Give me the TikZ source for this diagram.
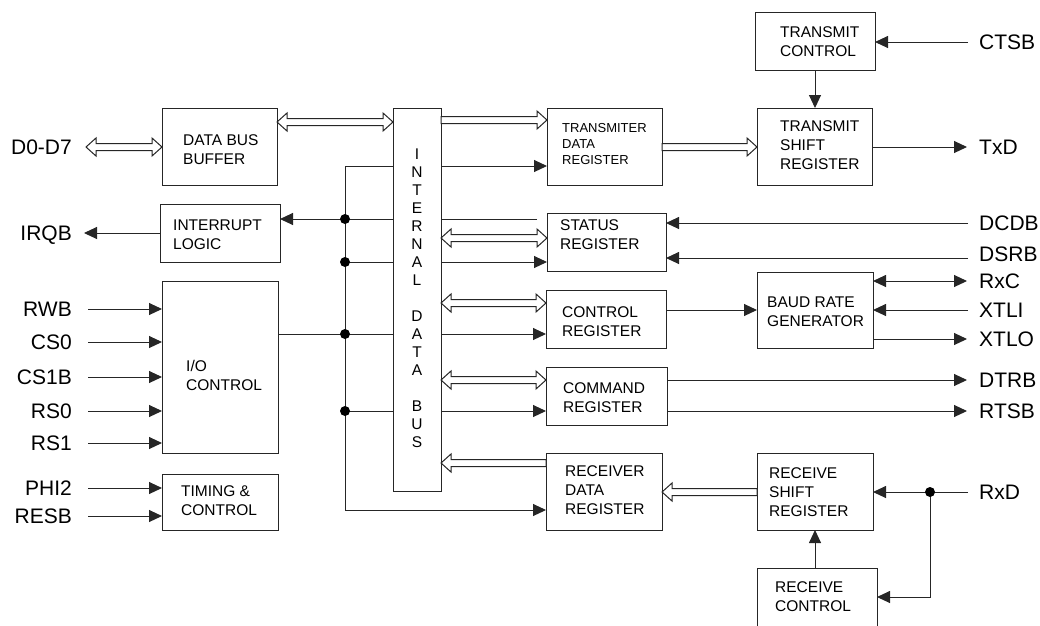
\documentclass[tikz,border=0pt]{standalone}
\usepackage{fontspec}
\setmainfont{Liberation Sans}
\usetikzlibrary{arrows.meta,calc}
\pgfdeclarelayer{bg}
\pgfsetlayers{bg,main}
\tikzset{
 ln/.style={line width=1pt, draw=black!85},
 arr/.style={ln, -{Triangle[length=13pt,width=12pt]}},
 darr/.style={ln, {Triangle[length=13pt,width=12pt]}-{Triangle[length=13pt,width=12pt]}},
 blk/.style={draw=black!85, line width=1pt, fill=white, inner sep=0pt, outer sep=0pt},
 lbl/.style={font=\fontsize{15.5}{19}\selectfont, align=left, inner sep=0pt},
 smalllbl/.style={font=\fontsize{13}{16}\selectfont, align=left, inner sep=0pt},
 pin/.style={font=\fontsize{21}{24}\selectfont, inner sep=0pt, text height=15pt, text depth=0pt},
 dot/.style={circle, fill=black, inner sep=0pt, minimum size=10pt},
 hol/.style={ln, fill=white, to path={let \p1=(\tikztostart), \p2=(\tikztotarget), \n1={sign(\x2-\x1)} in
   (\x1,\y1+3.5pt) -- (\x2-\n1*10pt,\y1+3.5pt) -- (\x2-\n1*10pt,\y1+9pt) -- (\x2,\y1)
   -- (\x2-\n1*10pt,\y1-9pt) -- (\x2-\n1*10pt,\y1-3.5pt) -- (\x1,\y1-3.5pt) -- cycle}},
 holtwo/.style={ln, fill=white, to path={let \p1=(\tikztostart), \p2=(\tikztotarget), \n1={sign(\x2-\x1)} in
   (\x1+\n1*10pt,\y1+3.5pt) -- (\x2-\n1*10pt,\y1+3.5pt) -- (\x2-\n1*10pt,\y1+9pt) -- (\x2,\y1)
   -- (\x2-\n1*10pt,\y1-9pt) -- (\x2-\n1*10pt,\y1-3.5pt) -- (\x1+\n1*10pt,\y1-3.5pt)
   -- (\x1+\n1*10pt,\y1-9pt) -- (\x1,\y1) -- (\x1+\n1*10pt,\y1+9pt) -- cycle}}
}
\begin{document}
\begin{tikzpicture}[x=1pt,y=-1pt]
\useasboundingbox (0,0) rectangle (1040,625);
\clip (0,0) rectangle (1040,625);

% ---------- blocks ----------
\node[blk, minimum width=115pt, minimum height=77pt] (dbb) at (219.5,146.5) {};
\node[blk, minimum width=120pt, minimum height=58pt] (irq) at (220,233) {};
\node[blk, minimum width=116pt, minimum height=172pt] (ioc) at (220,367) {};
\node[blk, minimum width=116pt, minimum height=56pt] (tim) at (220,502) {};
\node[blk, minimum width=115pt, minimum height=77pt] (tdr) at (604.5,146.5) {};
\node[blk, minimum width=119pt, minimum height=58pt] (sr) at (606.5,242) {};
\node[blk, minimum width=120pt, minimum height=58pt] (cr) at (606,319) {};
\node[blk, minimum width=121pt, minimum height=58pt] (cmd) at (606.5,396) {};
\node[blk, minimum width=116pt, minimum height=77pt] (rdr) at (604,491.5) {};
\node[blk, minimum width=120pt, minimum height=58pt] (tc) at (815,41) {};
\node[blk, minimum width=115pt, minimum height=77pt] (tsr) at (814.5,146.5) {};
\node[blk, minimum width=116pt, minimum height=76pt] (brg) at (815,310) {};
\node[blk, minimum width=116pt, minimum height=77pt] (rsr) at (815,491.5) {};
\node[blk, minimum width=120pt, minimum height=77pt] (rc) at (817,606.5) {};
\node[blk, minimum width=48pt, minimum height=383pt] (bus) at (417,299.5) {};

% ---------- block texts ----------
\node[lbl, anchor=west] (txtdbb) at (183,149.5) {DATA BUS\\BUFFER};
\node[lbl, anchor=west] (txtirq) at (173,235) {INTERRUPT\\LOGIC};
\node[lbl, anchor=west] (txtioc) at (186,375.5) {I/O\\CONTROL};
\node[lbl, anchor=west] (txttim) at (181,500.5) {TIMING \&\\CONTROL};
\node[smalllbl, anchor=west] (txttdr) at (562,144) {TRANSMITER\\DATA\\REGISTER};
\node[lbl, anchor=west] (txtsr) at (560,234.5) {STATUS\\REGISTER};
\node[lbl, anchor=west] (txtcr) at (562,321.5) {CONTROL\\REGISTER};
\node[lbl, anchor=west] (txtcmd) at (563,397.5) {COMMAND\\REGISTER};
\node[lbl, anchor=west] (txtrdr) at (565,490) {RECEIVER\\DATA\\REGISTER};
\node[lbl, anchor=west] (txttc) at (780,41.5) {TRANSMIT\\CONTROL};
\node[lbl, anchor=west] (txttsr) at (780,145) {TRANSMIT\\SHIFT\\REGISTER};
\node[lbl, anchor=west] (txtbrg) at (767,312) {BAUD RATE\\GENERATOR};
\node[lbl, anchor=west] (txtrsr) at (769,492) {RECEIVE\\SHIFT\\REGISTER};
\node[lbl, anchor=west] (txtrc) at (775,597) {RECEIVE\\CONTROL};
\node[font=\fontsize{15.5}{18}\selectfont, align=center, inner sep=0pt] (txtbus) at (417,298.5)
  {I\\N\\T\\E\\R\\N\\A\\L\\[18pt]D\\A\\T\\A\\[18pt]B\\U\\S};

% ---------- pin labels ----------
\node[pin, anchor=east] (d07) at (72,147) {D0-D7};
\node[pin, anchor=east] (irqb) at (72,233) {IRQB};
\node[pin, anchor=east] (rwb) at (72,309) {RWB};
\node[pin, anchor=east] (cs0) at (72,342) {CS0};
\node[pin, anchor=east] (cs1b) at (72,377) {CS1B};
\node[pin, anchor=east] (rs0) at (72,411) {RS0};
\node[pin, anchor=east] (rs1) at (72,443) {RS1};
\node[pin, anchor=east] (phi2) at (72,488) {PHI2};
\node[pin, anchor=east] (resb) at (72,516) {RESB};
\node[pin, anchor=west] (ctsb) at (979,42) {CTSB};
\node[pin, anchor=west] (txd) at (979,147) {TxD};
\node[pin, anchor=west] (dcdb) at (979,223) {DCDB};
\node[pin, anchor=west] (dsrb) at (979,254) {DSRB};
\node[pin, anchor=west] (rxc) at (979,281) {RxC};
\node[pin, anchor=west] (xtli) at (979,310) {XTLI};
\node[pin, anchor=west] (xtlo) at (979,339) {XTLO};
\node[pin, anchor=west] (dtrb) at (979,380) {DTRB};
\node[pin, anchor=west] (rtsb) at (979,411) {RTSB};
\node[pin, anchor=west] (rxd) at (979,492) {RxD};

% ---------- internal control lines ----------
\coordinate (jt) at (345,166);
\coordinate (jb) at (345,510);
\coordinate (j1) at (345,219);
\coordinate (j2) at (345,262);
\coordinate (j3) at (345,334);
\coordinate (j4) at (345,411);
\coordinate (s0) at (537,219);
\begin{pgfonlayer}{bg}
\draw[arr] (jt) -- (tdr.west |- jt);
\draw[ln] (jt) -- (jb);
\draw[arr] (s0) -- (irq.east |- s0);
\draw[arr] (j2) -- (sr.west |- j2);
\draw[arr] (ioc.east |- j3) -- (cr.west |- j3);
\draw[arr] (j4) -- (cmd.west |- j4);
\end{pgfonlayer}
\draw[arr] (jb) -- (rdr.west |- jb);
\node[dot] (dj1) at (j1) {};
\node[dot] (dj2) at (j2) {};
\node[dot] (dj3) at (j3) {};
\node[dot] (dj4) at (j4) {};

% ---------- hollow bus arrows ----------
\coordinate (h0) at ($(d07.east)+(14,0)$);
\draw[holtwo] (h0) to (dbb.west |- h0);
\coordinate (h1) at (dbb.east |- 0,122);
\draw[holtwo] (h1) to (bus.west |- h1);
\coordinate (h2) at (bus.east |- 0,120);
\draw[hol] (h2) to (tdr.west |- h2);
\coordinate (h3) at (tdr.east |- 0,147);
\draw[hol] (h3) to (tsr.west |- h3);
\coordinate (h4) at (bus.east |- 0,238);
\draw[holtwo] (h4) to (sr.west |- h4);
\coordinate (h5) at (bus.east |- 0,303);
\draw[holtwo] (h5) to (cr.west |- h5);
\coordinate (h6) at (bus.east |- 0,380);
\draw[holtwo] (h6) to (cmd.west |- h6);
\coordinate (h7) at (rdr.west |- 0,463);
\draw[hol] (h7) to (bus.east |- h7);
\coordinate (h8) at (rsr.west |- 0,492);
\draw[hol] (h8) to (rdr.east |- h8);

% ---------- left pins ----------
\coordinate (eirqb) at ($(irqb.east)+(12,0)$);
\draw[arr] (irq.west |- eirqb) -- (eirqb);
\coordinate (erwb) at ($(rwb.east)+(16,0)$);
\draw[arr] (erwb) -- (ioc.west |- erwb);
\coordinate (ecs0) at ($(cs0.east)+(16,0)$);
\draw[arr] (ecs0) -- (ioc.west |- ecs0);
\coordinate (ecs1b) at ($(cs1b.east)+(16,0)$);
\draw[arr] (ecs1b) -- (ioc.west |- ecs1b);
\coordinate (ers0) at ($(rs0.east)+(16,0)$);
\draw[arr] (ers0) -- (ioc.west |- ers0);
\coordinate (ers1) at ($(rs1.east)+(16,0)$);
\draw[arr] (ers1) -- (ioc.west |- ers1);
\coordinate (ephi2) at ($(phi2.east)+(16,0)$);
\draw[arr] (ephi2) -- (tim.west |- ephi2);
\coordinate (eresb) at ($(resb.east)+(16,0)$);
\draw[arr] (eresb) -- (tim.west |- eresb);

% ---------- right side ----------
\coordinate (ectsb) at ($(ctsb.west)+(-11,0)$);
\draw[arr] (ectsb) -- (tc.east |- ectsb);
\draw[arr] (tc.south) -- (tc.south |- tsr.north);
\coordinate (etxd) at ($(txd.west)+(-12,0)$);
\draw[arr] (tsr.east |- etxd) -- (etxd);
\coordinate (edcdb) at ($(dcdb.west)+(-11,0)$);
\draw[arr] (edcdb) -- (sr.east |- edcdb);
\coordinate (edsrb) at ($(dsrb.west)+(-11,4)$);
\draw[arr] (edsrb) -- (sr.east |- edsrb);
\draw[arr] (cr.east |- brg.west) -- (brg.west);
\coordinate (erxc) at ($(rxc.west)+(-12,0)$);
\draw[darr] (brg.east |- erxc) -- (erxc);
\coordinate (extli) at ($(xtli.west)+(-11,0)$);
\draw[arr] (extli) -- (brg.east |- extli);
\coordinate (extlo) at ($(xtlo.west)+(-12,0)$);
\draw[arr] (brg.east |- extlo) -- (extlo);
\coordinate (edtrb) at ($(dtrb.west)+(-12,0)$);
\draw[arr] (cmd.east |- edtrb) -- (edtrb);
\coordinate (ertsb) at ($(rtsb.west)+(-12,0)$);
\draw[arr] (cmd.east |- ertsb) -- (ertsb);
\coordinate (erxd) at ($(rxd.west)+(-11,0)$);
\coordinate (jr) at (930,492);
\coordinate (jrb) at (930,597);
\draw[arr] (erxd) -- (rsr.east |- erxd);
\draw[arr] (jr) -- (jrb) -- (rc.east |- jrb);
\node[dot] (djr) at (jr) {};
\draw[arr] (rsr.south |- rc.north) -- (rsr.south);
\end{tikzpicture}
\end{document}
